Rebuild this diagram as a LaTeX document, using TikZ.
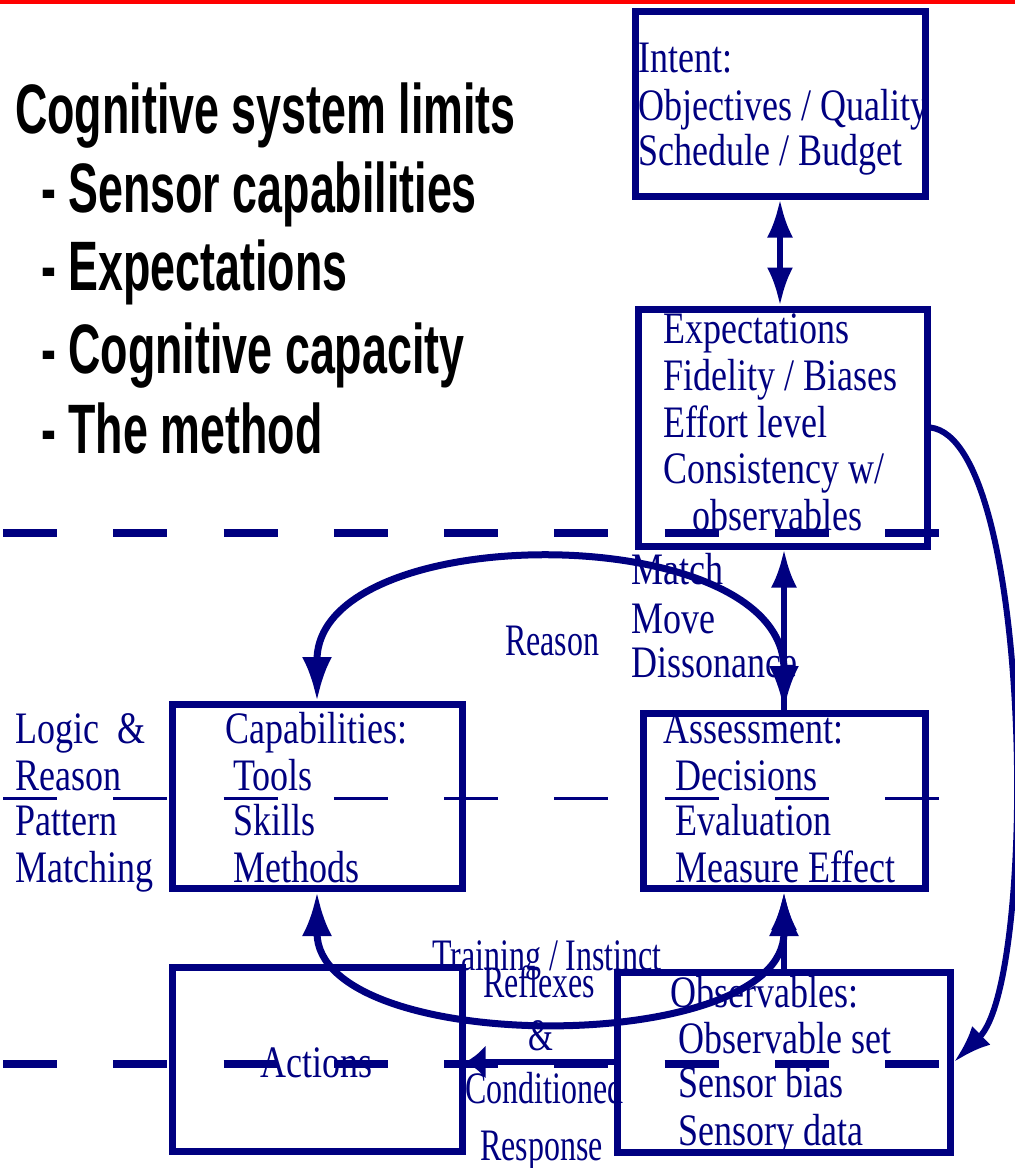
\documentclass[tikz,border=0pt]{standalone}
\usepackage{fontspec}
\usepackage{tikz}
\usetikzlibrary{arrows.meta, calc}
\newfontfamily\boxfont[FakeStretch=0.8]{Liberation Serif}
\newfontfamily\narrowfont[FakeStretch=0.71]{Liberation Serif}
\newfontfamily\headfont[FakeStretch=0.64]{Liberation Sans}
\definecolor{cognavy}{RGB}{0,0,128}
\tikzset{
    blockstyle/.style={rectangle, draw=cognavy, line width=7pt, inner sep=0pt},
    boxtxt/.style={anchor=base west, inner sep=0pt, text=cognavy, font=\boxfont\fontsize{45}{47}\selectfont},
    midtxt/.style={boxtxt, font=\narrowfont\fontsize{45}{47}\selectfont},
    headtxt/.style={anchor=base west, inner sep=0pt, text=black, font=\headfont\bfseries\fontsize{70}{72}\selectfont},
    arr/.style={-{Latex[length=38pt, width=26pt]}, line width=6pt, color=cognavy},
    arrboth/.style={{Latex[length=38pt, width=26pt]}-{Latex[length=38pt, width=26pt]}, line width=6pt, color=cognavy},
    looparr/.style={{Latex[length=44pt, width=30pt]}-{Latex[length=44pt, width=30pt]}, line width=7pt, color=cognavy},
    septhick/.style={line width=8pt, color=cognavy, dash pattern=on 54pt off 56.25pt},
    septhin/.style={line width=3pt, color=cognavy, dash pattern=on 54pt off 56.25pt}
}
\begin{document}
\begin{tikzpicture}[x=1pt, y=-1pt]
    \useasboundingbox (0,0) rectangle (1015,1168);
    % Top rule
    \fill[red] (0,0) rectangle (1015,3.5);

    % Heading and list
    \node[headtxt] (title) at (15,133) {Cognitive system limits};
    \node[headtxt] (lim1) at (41,212) {- Sensor capabilities};
    \node[headtxt] (lim2) at (41,290) {- Expectations};
    \node[headtxt] (lim3) at (41,373) {- Cognitive capacity};
    \node[headtxt] (lim4) at (41,453) {- The method};

    % Blocks
    \node[blockstyle, minimum width=290pt, minimum height=185pt] (intent) at (780,103.5) {};
    \node[blockstyle, minimum width=289pt, minimum height=237pt] (expect) at (782.5,427.5) {};
    \node[blockstyle, minimum width=290pt, minimum height=184pt] (capab) at (317,796.5) {};
    \node[blockstyle, minimum width=282pt, minimum height=175pt] (assess) at (784,801) {};
    \node[blockstyle, minimum width=290pt, minimum height=184pt] (actions) at (317,1059) {};
    \node[blockstyle, minimum width=333pt, minimum height=180pt] (observ) at (784,1062) {};

    % Block texts
    \node[boxtxt] (int1) at (638,72) {Intent:};
    \node[boxtxt] (int2) at (638,120) {Objectives / Quality};
    \node[boxtxt] (int3) at (638,165) {Schedule / Budget};

    \node[boxtxt] (exp1) at (663,343) {Expectations};
    \node[boxtxt] (exp2) at (663,390) {Fidelity / Biases};
    \node[boxtxt] (exp3) at (663,437) {Effort level};
    \node[boxtxt] (exp4) at (663,483) {Consistency w/};
    \node[boxtxt] (exp5) at (692,530) {observables};

    \node[boxtxt] (cap1) at (225,743) {Capabilities:};
    \node[boxtxt] (cap2) at (233,790) {Tools};
    \node[boxtxt] (cap3) at (233,835) {Skills};
    \node[boxtxt] (cap4) at (233,882) {Methods};

    \node[boxtxt] (ass1) at (663,743) {Assessment:};
    \node[boxtxt] (ass2) at (675,790) {Decisions};
    \node[boxtxt] (ass3) at (675,835) {Evaluation};
    \node[boxtxt] (ass4) at (675,882) {Measure Effect};

    \node[boxtxt] (obs1) at (670,1007) {Observables:};
    \node[boxtxt] (obs2) at (678,1053) {Observable set};
    \node[boxtxt] (obs3) at (678,1097) {Sensor bias};
    \node[boxtxt] (obs4) at (678,1145) {Sensory data};

    \node[boxtxt] (act1) at (260,1077) {Actions};

    % Side and link labels
    \node[boxtxt] (lr1) at (15,743) {Logic~~\&};
    \node[boxtxt] (lr2) at (15,790) {Reason};
    \node[boxtxt] (lr3) at (15,835) {Pattern};
    \node[boxtxt] (lr4) at (15,882) {Matching};

    \node[boxtxt] (mm1) at (631,584) {Match};
    \node[boxtxt] (mm2) at (631,633) {Move};
    \node[boxtxt] (mm3) at (631,677) {Dissonance};
    \node[midtxt] (rsn) at (505,655) {Reason};

    \node[midtxt] (tr1) at (432,970) {Training / Instinct};
    \node[midtxt] (tr2) at (483,997) {Reflexes};
    \node[midtxt] (tr3) at (528,1050) {\&};
    \node[midtxt] (tr4) at (465,1103) {Conditioned};
    \node[midtxt] (tr5) at (480,1160) {Response};

    % Separators
    \draw[septhick] (3,533) -- (939,533);
    \draw[septhin] (3,798) -- (939,798);
    \draw[septhick] (3,1064) -- (939,1064);

    % Links
    \draw[arrboth] (intent.south) -- (intent.south |- expect.north);
    \draw[arr] (assess.north) -- (assess.north |- expect.south);
    \draw[looparr] (capab.north) .. controls +(0,-183) and +(0,-192) .. (assess.north);
    \draw[looparr] (capab.south) .. controls +(0,165) and +(0,165) .. (assess.south);
    \draw[arr] (observ.north) -- (observ.north |- assess.south);
    \draw[-{Latex[length=20pt, width=34pt]}, line width=6pt, cognavy] (observ.west) -- (observ.west -| actions.east);
    \draw[arr] (expect.east) .. controls +(103,13) and +(84,-82) .. (observ.east);
\end{tikzpicture}
\end{document}
